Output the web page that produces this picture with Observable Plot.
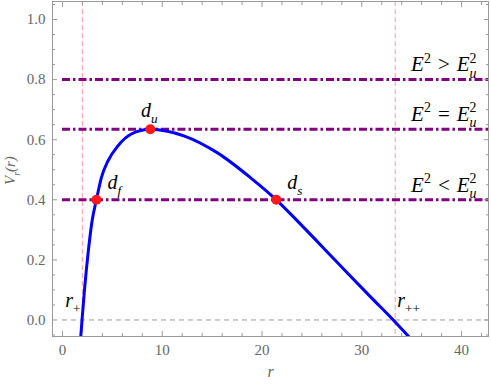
<!DOCTYPE html>
<html>
<head>
<meta charset="utf-8">
<script src="https://cdn.jsdelivr.net/npm/d3@7"></script>
<script src="https://cdn.jsdelivr.net/npm/@observablehq/plot@0.6"></script>
<style>
  body { margin: 0; background: #fff; }
  svg, svg text { font-family: "Liberation Serif", "DejaVu Serif", serif !important; }
</style>
</head>
<body>
<div id="chart"></div>
<script>
// Curve V_r(r)
const rVals = [1.83, 1.96, 2.23, 2.56, 2.97, 3.40, 3.90, 4.57, 5.57, 6.9, 8.8, 12.16, 15.5, 18.83, 21.43, 23.83, 27.36, 30.9, 33.15, 34.7];
const vVals = [-0.057, 0, 0.109, 0.22, 0.33, 0.40, 0.474, 0.530, 0.58, 0.619, 0.635, 0.613, 0.557, 0.474, 0.40, 0.320, 0.198, 0.076, 0, -0.055];

// Marked points
const pointNames = ["d_{f}", "d_{u}", "d_{s}"];
const pointR = [3.40, 8.8, 21.43];
const pointV = [0.40, 0.635, 0.40];

// Energy levels
const energyLevels = [0.8, 0.635, 0.4];
const energyLabels = ["E^{2}\u2004>\u2004E_{u}^{2}", "E^{2}\u2004=\u2004E_{u}^{2}", "E^{2}\u2004<\u2004E_{u}^{2}"];

// Horizons
const horizons = [2.0, 33.35];
const horizonLabels = ["r_{+}", "r_{++}"];

// Ticks
const xTicks = [0, 10, 20, 30, 40];
const xMinor = [2, 4, 6, 8, 12, 14, 16, 18, 22, 24, 26, 28, 32, 34, 36, 38, 42];
const yTicks = [0, 0.2, 0.4, 0.6, 0.8, 1.0];
const yMinor = [-0.05, 0.05, 0.1, 0.15, 0.25, 0.3, 0.35, 0.45, 0.5, 0.55, 0.65, 0.7, 0.75, 0.85, 0.9, 0.95, 1.05];

const xDomain = [-1, 42.7];
const yDomain = [-0.055, 1.06];

const curve = rVals.map((r, i) => ({r, v: vVals[i]}));
const points = pointNames.map((name, i) => ({name, r: pointR[i], v: pointV[i]}));
const levels = energyLevels.map((v, i) => ({v, label: energyLabels[i]}));
const hz = horizons.map((r, i) => ({r, label: horizonLabels[i]}));

const gray = "#999";
const serif = "Liberation Serif, DejaVu Serif, serif";
const blank = () => "";

const plot = Plot.plot({
  width: 491,
  height: 386,
  marginLeft: 52,
  marginRight: 3,
  marginTop: 1,
  marginBottom: 50,
  x: {domain: xDomain},
  y: {domain: yDomain},
  style: {fontFamily: serif, fontSize: "15px", color: "#666", background: "#fff"},
  marks: [
    Plot.ruleX(hz, {x: "r", stroke: "#ffadad", strokeWidth: 1.2, strokeDasharray: "5,3"}),
    Plot.ruleY([0], {y: d => d, x1: 0, x2: xDomain[1], stroke: gray, strokeWidth: 1, strokeDasharray: "5,4"}),
    Plot.ruleY(levels, {y: "v", x1: 0, x2: xDomain[1], stroke: "#800080", strokeWidth: 3, strokeDasharray: "8,3,2.5,3"}),
    Plot.line(curve, {x: "r", y: "v", stroke: "#0000ff", strokeWidth: 3, curve: "monotone-x", clip: true}),
    Plot.dot(points, {x: "r", y: "v", r: 5, fill: "#ff1a1a", stroke: "none"}),
    // point labels
    Plot.text(points.filter(d => d.name === "d_{u}"), {x: "r", y: "v", text: "name", dx: -1, dy: -19, fill: "#000", fontFamily: serif, fontSize: 20, fontStyle: "italic", textAnchor: "middle"}),
    Plot.text(points.filter(d => d.name !== "d_{u}"), {x: "r", y: "v", text: "name", dx: 11, dy: -17, fill: "#000", fontFamily: serif, fontSize: 20, fontStyle: "italic", textAnchor: "start"}),
    // energy labels
    Plot.text(levels, {x: 41.5, y: "v", text: "label", dy: -15, fill: "#000", fontFamily: serif, fontSize: 21, fontStyle: "italic", textAnchor: "end"}),
    // horizon labels
    Plot.text(hz.slice(0, 1), {x: "r", y: 0.065, text: "label", dx: -2, fill: "#000", fontFamily: serif, fontSize: 20, fontStyle: "italic", textAnchor: "end"}),
    Plot.text(hz.slice(1), {x: "r", y: 0.065, text: "label", dx: 2, fill: "#000", fontFamily: serif, fontSize: 20, fontStyle: "italic", textAnchor: "start"}),
    // axis titles
    Plot.text(["r"], {text: d => d, frameAnchor: "bottom", dy: 40, fill: "#666", fontFamily: serif, fontSize: 16, fontStyle: "italic"}),
    Plot.text(["V_{r}(r)"], {text: d => d, frameAnchor: "left", rotate: -90, dx: -42, dy: 16, fill: "#666", fontFamily: serif, fontSize: 15, fontStyle: "italic"}),
    // frame
    Plot.frame({stroke: gray}),
    // tick labels
    Plot.axisX({ticks: xTicks, tickSize: 0, tickPadding: 8, label: null, fontFamily: serif, fontSize: 15, tickFormat: d => String(d)}),
    Plot.axisY({ticks: yTicks, tickSize: 0, tickPadding: 7, label: null, fontFamily: serif, fontSize: 15, tickFormat: d => d.toFixed(1)}),
    // tick marks (inward)
    Plot.axisX({ticks: xTicks, tickSize: -5, label: null, tickFormat: blank, stroke: gray}),
    Plot.axisX({ticks: xMinor, tickSize: -3, label: null, tickFormat: blank, stroke: gray}),
    Plot.axisX({anchor: "top", ticks: xTicks, tickSize: -5, label: null, tickFormat: blank, stroke: gray}),
    Plot.axisX({anchor: "top", ticks: xMinor, tickSize: -3, label: null, tickFormat: blank, stroke: gray}),
    Plot.axisY({ticks: yTicks, tickSize: -5, label: null, tickFormat: blank, stroke: gray}),
    Plot.axisY({ticks: yMinor, tickSize: -3, label: null, tickFormat: blank, stroke: gray}),
    Plot.axisY({anchor: "right", ticks: yTicks, tickSize: -5, label: null, tickFormat: blank, stroke: gray}),
    Plot.axisY({anchor: "right", ticks: yMinor, tickSize: -3, label: null, tickFormat: blank, stroke: gray})
  ]
});

document.getElementById("chart").appendChild(plot);

// Turn _{..} / ^{..} markup into real sub/superscript tspans
const SVGNS = "http://www.w3.org/2000/svg";
function richify(root) {
  root.querySelectorAll("text").forEach(t => {
    const s = t.textContent;
    if (!/[_^]\{/.test(s)) return;
    const f = parseFloat(getComputedStyle(t).fontSize) || 15;
    const re = /([_^])\{([^}]*)\}|([^_^]+)/g;
    while (t.firstChild) t.removeChild(t.firstChild);
    let cur = 0, prev = null, m;
    while ((m = re.exec(s))) {
      if (m[3] !== undefined) {
        // plain run; operators upright
        const parts = m[3].split(/([<>=+]+)/).filter(p => p.length);
        parts.forEach((p, j) => {
          const ts = document.createElementNS(SVGNS, "tspan");
          ts.textContent = p;
          ts.setAttribute("font-size", f);
          if (j === 0) ts.setAttribute("dy", -cur);
          if (/^[<>=+]+$/.test(p)) ts.setAttribute("font-style", "normal");
          t.appendChild(ts);
          prev = {kind: "n", el: ts};
        });
        cur = 0;
      } else {
        const ts = document.createElementNS(SVGNS, "tspan");
        const kind = m[1];
        const target = kind === "^" ? -0.42 * f : 0.3 * f;
        ts.textContent = m[2];
        ts.setAttribute("font-size", 0.66 * f);
        ts.setAttribute("dy", target - cur);
        if (/^[+\-0-9]+$/.test(m[2])) ts.setAttribute("font-style", "normal");
        t.appendChild(ts);
        if (kind === "^" && prev && prev.kind === "_") {
          ts.setAttribute("dx", -prev.el.getComputedTextLength());
        }
        cur = target;
        prev = {kind, el: ts};
      }
    }
  });
}
richify(plot);
</script>
</body>
</html>
